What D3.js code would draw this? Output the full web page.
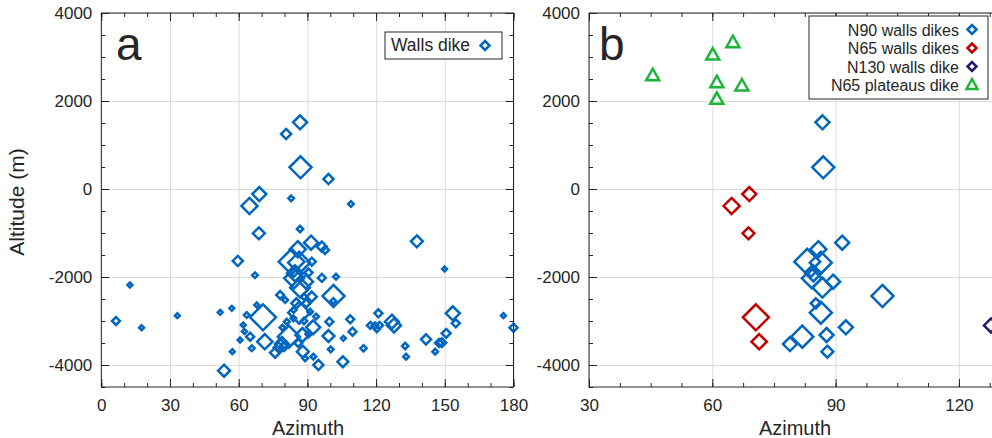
<!DOCTYPE html>
<html>
<head>
<meta charset="utf-8">
<script src="https://cdn.jsdelivr.net/npm/d3@7"></script>
<style>
  body { margin: 0; background: #fff; }
  text { font-family: "Liberation Sans", Arial, sans-serif; fill: #262626; }
</style>
</head>
<body>
<svg id="chart" width="992" height="438"></svg>
<script>
// ---- data (azimuth in degrees, altitude in m, thickness in m) ----
// N90 walls dikes
var n90Az  = [86.8, 87.0, 91.6, 83.1, 86.4, 85.8, 84.6, 84.0, 84.2, 89.4, 86.8, 85.2, 86.4, 92.5, 81.9, 78.9, 87.8, 88.0, 101.4];
var n90Alt = [1516, 493, -1220, -1652, -1675, -1370, -1917, -1880, -2030, -2106, -2242, -2598, -2811, -3144, -3356, -3523, -3318, -3697, -2432];
var n90Thk = [2.5, 6.2, 2.5, 8.5, 6.2, 3.3, 3.3, 1.3, 5, 2.5, 5, 1.3, 6.2, 2.5, 6.2, 2.5, 2.5, 1.8, 6.2];
// N65 walls dikes
var n65Az  = [64.7, 69.0, 68.8, 70.6, 71.4];
var n65Alt = [-386, -114, -1008, -2917, -3470];
var n65Thk = [3.3, 2.5, 1.8, 8.6, 3];
// N130 walls dike
var n130Az  = [127.8];
var n130Alt = [-3100];
var n130Thk = [2.5];
// N65 plateaus dikes
var platAz  = [45.5, 60.1, 65.0, 61.1, 67.2, 61.1];
var platAlt = [2575, 3045, 3325, 2416, 2341, 2039];
// other walls dikes (only in panel a)
var otherAz  = [80.7, 99.2, 82.9, 109, 86.8, 137.8, 96.3, 97.7, 91.9, 59.6, 149.9, 67.1, 12.5, 96.3, 102.5,
                101.3, 91.9, 91.2, 78.1, 80.3, 99.6, 99.2, 105.7, 108.7, 109.7, 100.2, 114.5, 105.5, 94.8, 92.6,
                89.0, 121, 117.5, 119.5, 121.5, 120.3, 126.9, 132.7, 133.1, 153.5, 154.8, 150.6, 148.7, 147.5, 145.8,
                141.8, 175.6, 180, 6.4, 17.6, 33.2, 51.9, 57.0, 53.6, 62.0, 60.6, 57.2, 65.0, 65.7, 63.5,
                67.9, 75.9, 77.5, 79.8, 81.0, 83.9, 62.5, 79.1, 84.0, 88.5, 90.5, 88.5, 86.0, 90.5, 93.8, 89.5];
var otherAlt = [1250, 227, -212, -341, -909, -1190, -1311, -1386, -1652, -1636, -1818, -1960, -2182, -2020, -1992,
                -2545, -2447, -2788, -2409, -2523, -3015, -3341, -3394, -2962, -3243, -3644, -3620, -3925, -4000, -3811,
                -3848, -2826, -3100, -3110, -3100, -3190, -3015, -3568, -3811, -2826, -3053, -3280, -3492, -3500, -3697,
                -3417, -2879, -3152, -3000, -3152, -2879, -2803, -2712, -4129, -3090, -3432, -3697, -3356, -3620, -2864,
                -2636, -3720, -3600, -3580, -3015, -2940, -3240, -3150, -2750, -2450, -1900, -3000, -3500, -3300, -2900, -2600];
var otherThk = [1.3, 1.3, 0.4, 0.4, 0.5, 1.8, 1.3, 0.8, 0.8, 1.3, 0.3, 0.4, 0.3, 0.8, 0.4,
                0.4, 1.3, 0.4, 0.8, 0.4, 0.8, 1.8, 0.3, 0.8, 0.8, 0.4, 0.5, 1.5, 1.3, 0.4,
                0.4, 0.8, 0.6, 0.6, 0.6, 0.4, 2.5, 0.5, 0.4, 2.5, 0.8, 1, 1, 0.8, 0.4,
                1.3, 0.3, 0.8, 0.8, 0.3, 0.3, 0.3, 0.3, 1.8, 0.3, 0.3, 0.3, 0.8, 0.4, 0.4,
                0.3, 1.3, 1.3, 1, 0.4, 0.4, 0.3, 0.4, 0.4, 0.5, 0.8, 0.5, 0.8, 0.5, 0.4, 0.8];

var yMajor = [-4000, -2000, 0, 2000, 4000];
var aMajor = [0, 30, 60, 90, 120, 150, 180];
var bMajor = [30, 60, 90, 120];

var blue = "#0066bf", red = "#c00000", navy = "#2b1670", green = "#1db43a";

function rows(az, alt, thk) {
  return az.map(function(d, i) { return { az: d, alt: alt[i], thk: thk ? thk[i] : 0 }; });
}
var n90 = rows(n90Az, n90Alt, n90Thk),
    n65 = rows(n65Az, n65Alt, n65Thk),
    n130 = rows(n130Az, n130Alt, n130Thk),
    plat = rows(platAz, platAlt),
    other = rows(otherAz, otherAlt, otherThk);
var walls = other.concat(n90, n65, n130);

var svg = d3.select("#chart");
var rScale = d3.scaleSqrt().domain([0, 10]).range([0, 14]);

var diamond = function(r) { return "M0," + (-r) + "L" + r + ",0L0," + r + "L" + (-r) + ",0Z"; };
var triangle = "M0,-7L6.5,4.5L-6.5,4.5Z";

var y = d3.scaleLinear().domain([-4500, 4000]).range([387, 13]);
var yMinor = d3.range(-4500, 4001, 500);

function drawPanel(x, xMajor, xMinor, labelX) {
  var g = svg.append("g");
  var x0 = x.range()[0], x1 = x.range()[1], y0 = y.range()[0], y1 = y.range()[1];
  var h = y0 - y1, w = x1 - x0;

  // grid
  g.append("g").attr("transform", "translate(0," + y0 + ")")
    .call(d3.axisBottom(x).tickValues(xMajor).tickSize(-h).tickFormat(""))
    .call(function(s) { s.select(".domain").remove(); s.selectAll("line").attr("stroke", "#dcdcdc"); });
  g.append("g").attr("transform", "translate(" + x0 + ",0)")
    .call(d3.axisLeft(y).tickValues(yMajor).tickSize(-w).tickFormat(""))
    .call(function(s) { s.select(".domain").remove(); s.selectAll("line").attr("stroke", "#dcdcdc"); });

  var marks = g.append("g");
  var axes = g.append("g");
  // ticks, inward on all sides
  var fmt = function(d) { return String(d); };
  var sides = [
    [d3.axisBottom, x, xMajor, xMinor, "translate(0," + y0 + ")", true],
    [d3.axisTop, x, xMajor, xMinor, "translate(0," + y1 + ")", false],
    [d3.axisLeft, y, yMajor, yMinor, "translate(" + x0 + ",0)", true],
    [d3.axisRight, y, yMajor, yMinor, "translate(" + x1 + ",0)", false]
  ];
  sides.forEach(function(s) {
    axes.append("g").attr("transform", s[4])
      .call(s[0](s[1]).tickValues(s[3]).tickSize(-4).tickFormat(""))
      .call(function(a) { a.select(".domain").remove(); a.selectAll("line").attr("stroke", "#262626"); });
    axes.append("g").attr("transform", s[4])
      .call(s[0](s[1]).tickValues(s[2]).tickSize(-8).tickPadding(s[0] === d3.axisBottom ? 12 : 9)
        .tickFormat(s[5] ? fmt : ""))
      .call(function(a) {
        a.select(".domain").remove();
        a.selectAll("line").attr("stroke", "#262626");
        a.selectAll("text").attr("font-size", 17).attr("font-family", null).style("fill", "#262626");
      });
  });
  axes.append("rect").attr("x", x0).attr("y", y1).attr("width", w).attr("height", h)
    .attr("fill", "none").attr("stroke", "#262626");
  axes.append("text").attr("x", labelX).attr("y", 435)
    .attr("text-anchor", "middle").attr("font-size", 20).text("Azimuth");
  return { marks: marks, axes: axes };
}

function drawDiamonds(layer, x, data, color) {
  layer.selectAll(null).data(data).join("path")
    .attr("transform", function(d) { return "translate(" + x(d.az) + "," + y(d.alt) + ")"; })
    .attr("d", function(d) { return diamond(rScale(d.thk)); })
    .attr("fill", "none").attr("stroke", color).attr("stroke-width", 2.5);
}

// ---- panel a ----
var xa = d3.scaleLinear().domain([0, 180]).range([101.3, 513.5]);
var pa = drawPanel(xa, aMajor, d3.range(0, 181, 10), 308);
drawDiamonds(pa.marks, xa, walls, blue);
svg.append("text").attr("x", 116).attr("y", 60).attr("font-size", 46).text("a");
var la = svg.append("g");
la.append("rect").attr("x", 385).attr("y", 32).attr("width", 117).attr("height", 27)
  .attr("fill", "#fff").attr("stroke", "#262626");
la.append("text").attr("x", 391).attr("y", 51).attr("font-size", 17.5).text("Walls dike");
la.append("path").attr("transform", "translate(485,45.5)").attr("d", diamond(4.5))
  .attr("fill", "none").attr("stroke", blue).attr("stroke-width", 2.5);

// ---- panel b ----
var xb = d3.scaleLinear().domain([30, 130]).range([589, 1000]);
var pb = drawPanel(xb, bMajor, d3.range(30, 131, 7.5), 795);
drawDiamonds(pb.marks, xb, n90, blue);
drawDiamonds(pb.marks, xb, n65, red);
drawDiamonds(pb.marks, xb, n130, navy);
pb.marks.selectAll(null).data(plat).join("path")
  .attr("transform", function(d) { return "translate(" + xb(d.az) + "," + y(d.alt) + ")"; })
  .attr("d", triangle).attr("fill", "none").attr("stroke", green).attr("stroke-width", 2.5);
svg.append("text").attr("x", 599).attr("y", 60).attr("font-size", 46).text("b");

var legendB = [
  { label: "N90 walls dikes", color: blue, shape: "d" },
  { label: "N65 walls dikes", color: red, shape: "d" },
  { label: "N130 walls dike", color: navy, shape: "d" },
  { label: "N65 plateaus dike", color: green, shape: "t" }
];
var lb = svg.append("g");
lb.append("rect").attr("x", 809).attr("y", 16).attr("width", 179).attr("height", 83)
  .attr("fill", "#fff").attr("stroke", "#262626");
legendB.forEach(function(d, i) {
  var cy = 29.5 + i * 18.5;
  lb.append("text").attr("x", 959).attr("y", cy + 6).attr("text-anchor", "end")
    .attr("font-size", 16).text(d.label);
  lb.append("path").attr("transform", "translate(972," + cy + ")")
    .attr("d", d.shape === "d" ? diamond(4.5) : "M0,-6L5.5,4L-5.5,4Z")
    .attr("fill", "none").attr("stroke", d.color).attr("stroke-width", 2.5);
});

// y label
svg.append("text").attr("transform", "translate(24,202) rotate(-90)")
  .attr("text-anchor", "middle").attr("font-size", 21).text("Altitude (m)");
</script>
</body>
</html>
